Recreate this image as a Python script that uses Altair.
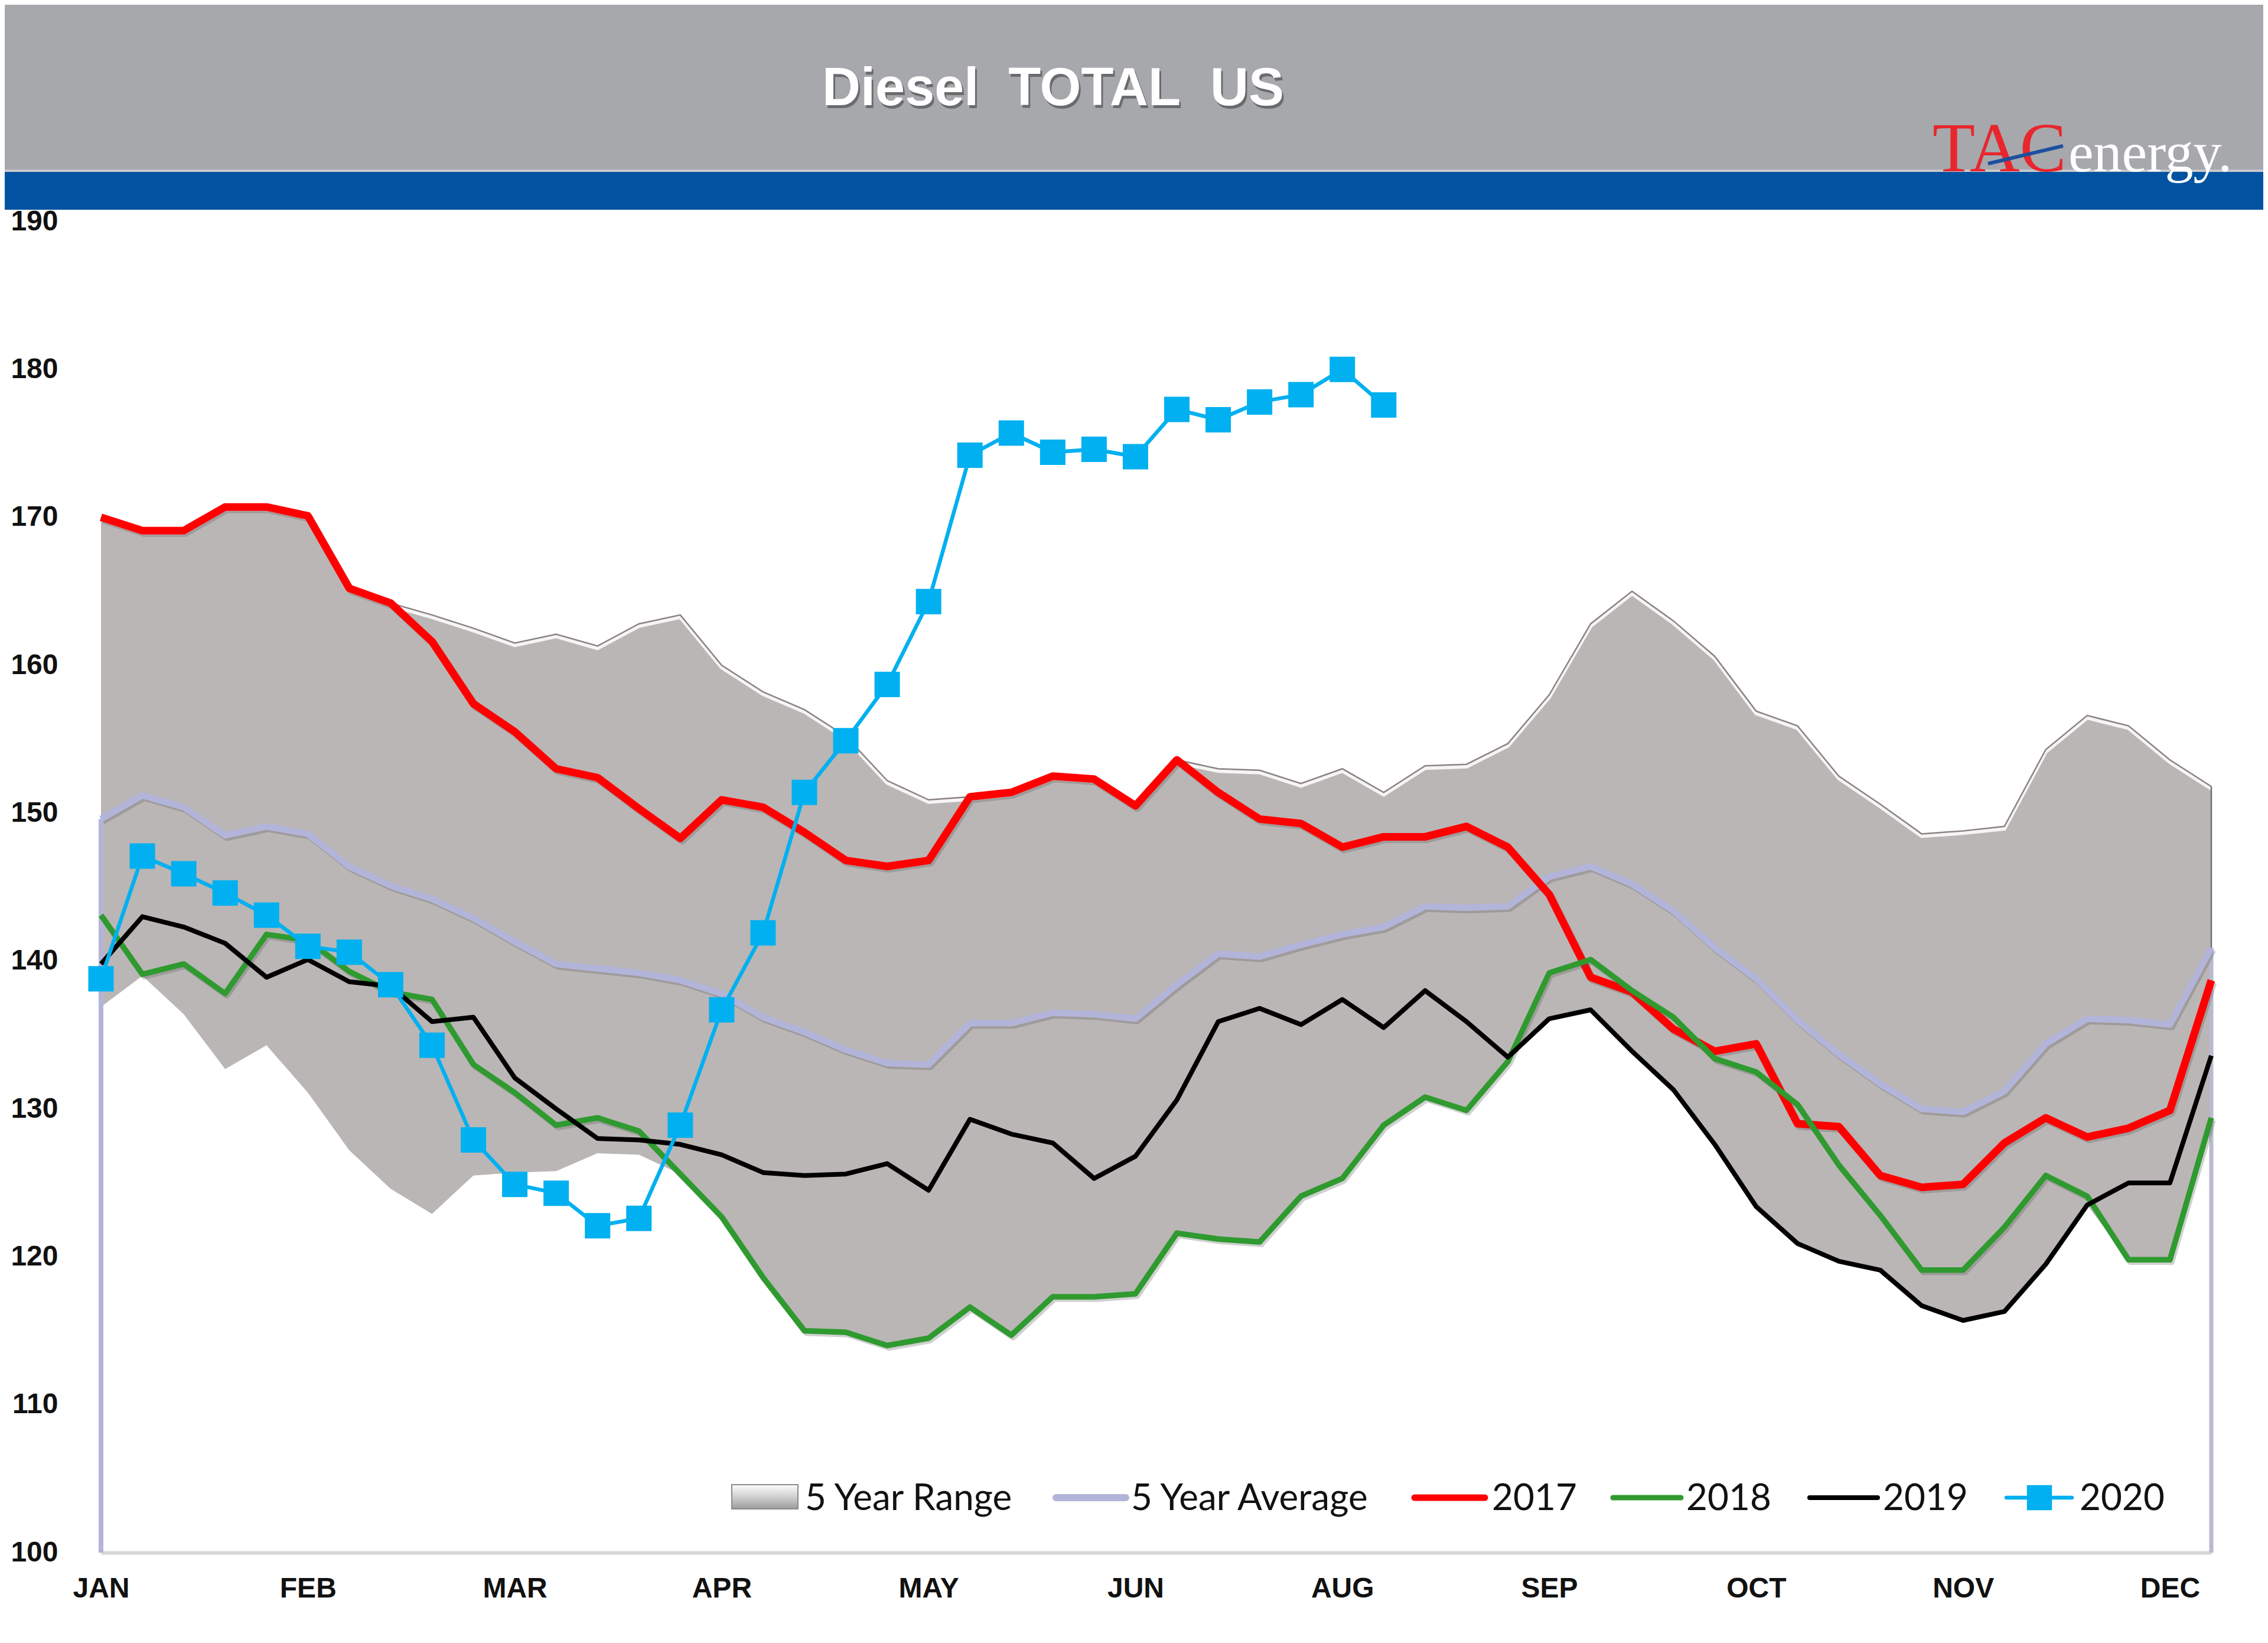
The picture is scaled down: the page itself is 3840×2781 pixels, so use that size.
import json
import altair as alt
import pandas as pd

# ---------------- data ----------------
weeks = list(range(52))
month_labels = ["JAN", "FEB", "MAR", "APR", "MAY", "JUN", "AUG", "SEP", "OCT", "NOV", "DEC"]
month_ticks = [0, 5, 10, 15, 20, 25, 30, 35, 40, 45, 50]
y_ticks = [100, 110, 120, 130, 140, 150, 160, 170, 180, 190]

range_max = [170.0, 169.1, 169.1, 170.7, 170.7, 170.1, 165.2, 164.2, 163.4, 162.5,
             161.5, 162.1, 161.3, 162.8, 163.4, 160.0, 158.2, 157.0, 155.2, 152.2,
             150.9, 151.1, 151.4, 152.5, 152.3, 150.6, 153.6, 153.0, 152.9, 152.0,
             153.0, 151.4, 153.2, 153.3, 154.7, 158.0, 162.8, 165.0, 163.0, 160.6,
             156.9, 155.9, 152.5, 150.6, 148.6, 148.8, 149.1, 154.3, 156.6, 155.9,
             153.6, 151.8]
range_min = [136.9, 139.0, 136.4, 132.7, 134.3, 131.1, 127.2, 124.6, 122.9, 125.5,
             125.7, 125.8, 127.0, 126.9, 125.6, 122.7, 118.6, 115.0, 114.9, 114.0,
             114.5, 116.6, 114.7, 117.3, 117.3, 117.5, 121.6, 121.2, 121.0, 124.1,
             125.3, 128.9, 130.8, 129.9, 133.2, 136.1, 136.7, 133.9, 131.3, 127.6,
             123.4, 120.9, 119.7, 119.1, 116.7, 115.7, 116.3, 119.5, 123.5, 119.8,
             119.8, 129.4]
avg5 = [149.6, 151.2, 150.4, 148.5, 149.1, 148.6, 146.4, 145.1, 144.2, 142.9,
        141.3, 139.8, 139.5, 139.2, 138.7, 137.8, 136.2, 135.2, 134.0, 133.1,
        133.0, 135.8, 135.8, 136.5, 136.4, 136.1, 138.4, 140.5, 140.3, 141.1,
        141.8, 142.3, 143.7, 143.6, 143.7, 145.7, 146.4, 145.2, 143.4, 140.9,
        138.8, 136.0, 133.7, 131.7, 130.0, 129.8, 131.2, 134.4, 136.1, 136.0,
        135.7, 140.9]
y2017 = [170.0, 169.1, 169.1, 170.7, 170.7, 170.1, 165.2, 164.2, 161.6, 157.4,
         155.5, 153.0, 152.4, 150.3, 148.3, 150.9, 150.4, 148.7, 146.8, 146.4,
         146.8, 151.1, 151.4, 152.5, 152.3, 150.5, 153.6, 151.4, 149.6, 149.3,
         147.7, 148.4, 148.4, 149.1, 147.7, 144.5, 138.9, 137.9, 135.4, 133.9,
         134.4, 129.0, 128.8, 125.5, 124.7, 124.9, 127.7, 129.4, 128.1, 128.7,
         129.9, 138.7]
y2018 = [143.1, 139.1, 139.8, 137.8, 141.8, 141.4, 139.3, 137.9, 137.4, 133.0,
         131.1, 128.9, 129.4, 128.5, 125.6, 122.7, 118.6, 115.0, 114.9, 114.0,
         114.5, 116.6, 114.7, 117.3, 117.3, 117.5, 121.6, 121.2, 121.0, 124.1,
         125.3, 128.9, 130.8, 129.9, 133.2, 139.2, 140.1, 138.0, 136.2, 133.4,
         132.5, 130.3, 126.2, 122.8, 119.1, 119.1, 122.0, 125.5, 124.1, 119.8,
         119.8, 129.4]
y2019 = [139.8, 143.0, 142.3, 141.2, 138.9, 140.1, 138.6, 138.3, 135.9, 136.2,
         132.1, 130.0, 128.0, 127.9, 127.6, 126.9, 125.7, 125.5, 125.6, 126.3,
         124.5, 129.3, 128.3, 127.7, 125.3, 126.8, 130.6, 135.9, 136.8, 135.7,
         137.4, 135.5, 138.0, 135.9, 133.5, 136.1, 136.7, 133.9, 131.3, 127.6,
         123.4, 120.9, 119.7, 119.1, 116.7, 115.7, 116.3, 119.5, 123.5, 125.0,
         125.0, 133.6]
y2020 = [138.8, 147.1, 145.9, 144.6, 143.1, 141.0, 140.6, 138.4, 134.3, 127.9,
         124.9, 124.3, 122.1, 122.6, 128.9, 136.7, 141.9, 151.4, 154.9, 158.7,
         164.3, 174.2, 175.7, 174.4, 174.6, 174.1, 177.3, 176.6, 177.8, 178.3,
         180.0, 177.6]

legend_labels = ["5 Year Range", "5 Year Average", "2017", "2018", "2019", "2020"]
title_text = "Diesel\u00a0\u00a0TOTAL\u00a0\u00a0US"

# ---------------- styles ----------------
W, H = 3573, 2253
C_RANGE = "#bab6b5"
C_AVG = "#b3b4d9"
C_2017 = "#ff0000"
C_2018 = "#2f9a2f"
C_2019 = "#000000"
C_2020 = "#00b0f0"
AXIS_FONT = "Liberation Sans"
LEG_FONT = "Lato"

x_scale = alt.Scale(domain=[0, 51], nice=False, zero=False)
y_scale = alt.Scale(domain=[y_ticks[0], y_ticks[-1]], nice=False, zero=False)

label_expr = f"{json.dumps(month_labels)}[indexof({json.dumps(month_ticks)}, datum.value)]"


def X(field="week"):
    return alt.X(f"{field}:Q", scale=x_scale,
                 axis=alt.Axis(values=month_ticks, labelExpr=label_expr, title=None,
                               grid=False, ticks=False, tickSize=0, domain=True,
                               domainColor="#d6d6d6", domainWidth=6,
                               labelFont=AXIS_FONT, labelFontWeight="bold",
                               labelFontSize=48, labelColor="#111111",
                               labelPadding=61, labelBaseline="middle",
                               labelFlush=False, labelOverlap=False))


def Y(field):
    return alt.Y(f"{field}:Q", scale=y_scale,
                 axis=alt.Axis(values=y_ticks, format="d", title=None, grid=False,
                               ticks=False, tickSize=0, domain=False,
                               labelFont=AXIS_FONT, labelFontWeight="bold",
                               labelFontSize=48, labelColor="#111111",
                               labelPadding=73, labelOverlap=False))


def sdf(vals):
    return pd.DataFrame({"week": weeks[:len(vals)], "v": vals})


range_df = pd.DataFrame({"week": weeks, "lo": range_min, "hi": range_max})
left_edge = pd.DataFrame({"week": [weeks[0]], "lo": [y_ticks[0]], "hi": [avg5[0]]})
right_edge = pd.DataFrame({"week": [weeks[-1]], "lo": [y_ticks[0]], "hi": [avg5[-1]]})
right_edge_top = pd.DataFrame({"week": [weeks[-1]], "lo": [avg5[-1]], "hi": [range_max[-1]]})
deco = pd.DataFrame({"k": [0]})

layers = []

# header bands
layers.append(alt.Chart(deco).mark_rect(color="#a7a8ac").encode(
    x=alt.value(-163), x2=alt.value(W + 88), y=alt.value(-367), y2=alt.value(-85)))
layers.append(alt.Chart(deco).mark_rect(color="#c9c9cc").encode(
    x=alt.value(-163), x2=alt.value(W + 88), y=alt.value(-88), y2=alt.value(-84)))
layers.append(alt.Chart(deco).mark_rect(color="#0153a2").encode(
    x=alt.value(-163), x2=alt.value(W + 88), y=alt.value(-84), y2=alt.value(-20)))

# title with shadow
layers.append(alt.Chart(deco).mark_text(text=title_text, font=AXIS_FONT, fontWeight="bold",
                                        fontSize=90, align="center", baseline="alphabetic",
                                        color="#3a3a3a", opacity=0.55).encode(
    x=alt.value(1615), y=alt.value(-192)))
layers.append(alt.Chart(deco).mark_text(text=title_text, font=AXIS_FONT, fontWeight="bold",
                                        fontSize=90, align="center", baseline="alphabetic",
                                        color="#ffffff").encode(
    x=alt.value(1612), y=alt.value(-197)))

# logo
layers.append(alt.Chart(deco).mark_text(text="TAC", font="Liberation Serif", fontSize=118,
                                        align="left", baseline="alphabetic",
                                        color="#e8262d").encode(
    x=alt.value(3101), y=alt.value(-85)))
layers.append(alt.Chart(deco).mark_text(text="energy.", font="Liberation Serif", fontSize=96,
                                        align="left", baseline="alphabetic",
                                        color="#ffffff").encode(
    x=alt.value(3331), y=alt.value(-85)))
layers.append(alt.Chart(deco).mark_rule(color="#1d4f9f", strokeWidth=6).encode(
    x=alt.value(3195), y=alt.value(-98), x2=alt.value(3322), y2=alt.value(-128)))

# 5 year range
layers.append(alt.Chart(range_df).mark_area(color=C_RANGE, opacity=1).encode(
    x=X(), y=Y("lo"), y2="hi"))
layers.append(alt.Chart(range_df).mark_line(color="#f6f4f4", strokeWidth=6, yOffset=4).encode(
    x=X(), y=Y("hi")))
layers.append(alt.Chart(range_df).mark_line(color="#8b8383", strokeWidth=2.5).encode(
    x=X(), y=Y("hi")))

# edge lines of the range
layers.append(alt.Chart(left_edge).mark_rule(color=C_AVG, strokeWidth=8).encode(
    x=X(), y=Y("lo"), y2="hi"))
layers.append(alt.Chart(right_edge).mark_rule(color="#b9b9cf", strokeWidth=7).encode(
    x=X(), y=Y("lo"), y2="hi"))
layers.append(alt.Chart(right_edge_top).mark_rule(color="#6f6f6f", strokeWidth=2.5).encode(
    x=X(), y=Y("lo"), y2="hi"))


# line series (with soft shadows)
def line(vals, color, width, shadow=True):
    out = []
    if shadow:
        out.append(alt.Chart(sdf(vals)).mark_line(color="#555555", opacity=0.28,
                                                 strokeWidth=width, xOffset=3, yOffset=4,
                                                 strokeJoin="round").encode(x=X(), y=Y("v")))
    out.append(alt.Chart(sdf(vals)).mark_line(color=color, strokeWidth=width,
                                             strokeJoin="round").encode(x=X(), y=Y("v")))
    return out


layers += line(avg5, C_AVG, 11)
layers += line(y2017, C_2017, 13)
layers += line(y2018, C_2018, 9.5)
layers += line(y2019, C_2019, 8, shadow=False)
layers += line(y2020, C_2020, 6.5, shadow=False)
layers.append(alt.Chart(sdf(y2020)).mark_point(shape="square", filled=True, size=1850,
                                              color=C_2020, opacity=1).encode(
    x=X(), y=Y("v")))

# legend (drawn by hand, inside plot area)
LY = 2160
grad = alt.Gradient(gradient="linear",
                    stops=[alt.GradientStop(color="#fdfdfd", offset=0),
                           alt.GradientStop(color="#d0d0d0", offset=0.5),
                           alt.GradientStop(color="#9c9c9c", offset=1)],
                    x1=0, x2=0, y1=0, y2=1)
layers.append(alt.Chart(deco).mark_rect(fill=grad, stroke="#8a8a8a", strokeWidth=2).encode(
    x=alt.value(1068), x2=alt.value(1180), y=alt.value(LY - 22), y2=alt.value(LY + 19)))

leg_lines = [(C_AVG, 12, 1617, 1735), (C_2017, 11, 2224, 2343),
             (C_2018, 9, 2560, 2675), (C_2019, 8, 2893, 3008), (C_2020, 6.5, 3226, 3337)]
for color, w, x1, x2 in leg_lines:
    layers.append(alt.Chart(deco).mark_rule(color=color, strokeWidth=w, strokeCap="round").encode(
        x=alt.value(x1), x2=alt.value(x2), y=alt.value(LY), y2=alt.value(LY)))
layers.append(alt.Chart(deco).mark_point(shape="square", filled=True, size=1800, color=C_2020,
                                         opacity=1).encode(x=alt.value(3282), y=alt.value(LY)))

leg_text_x = [1192, 1744, 2355, 2684, 3017, 3350]
for lab, tx in zip(legend_labels, leg_text_x):
    layers.append(alt.Chart(deco).mark_text(text=lab, font=LEG_FONT, fontSize=62, align="left",
                                            baseline="alphabetic", color="#111111").encode(
        x=alt.value(tx), y=alt.value(LY + 21)))

chart = alt.layer(*layers).properties(
    width=W, height=H,
    autosize=alt.AutoSizeParams(type="none"),
    padding={"left": 163, "top": 367, "right": 88, "bottom": 145},
    background="white",
).configure_view(stroke=None)

chart.save("out.html", embed_options={"renderer": "svg", "actions": False})
